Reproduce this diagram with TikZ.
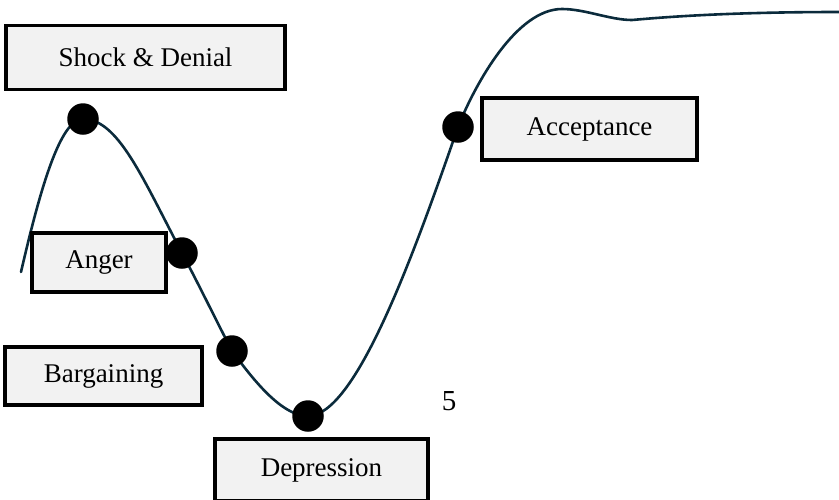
\documentclass[tikz,border=0pt]{standalone}
\usepackage{fontspec}
\setmainfont{Liberation Serif}
\definecolor{curvecol}{HTML}{0B2B3C}
\definecolor{boxfill}{HTML}{F2F2F2}
\tikzset{
  stagebox/.style={draw=black, line width=3.2pt, fill=boxfill, rectangle, inner sep=0pt,
    font=\fontsize{27}{30}\selectfont},
  stagedot/.style={circle, fill=black, draw=none, minimum size=31.5pt, inner sep=0pt},
  curveline/.style={draw=curvecol, line width=2.6pt, line cap=round}
}
\begin{document}
\begin{tikzpicture}[x=1pt,y=-1pt]
\useasboundingbox (0,0) rectangle (839,499);
% stage points
\coordinate (p0) at (21,272);
\coordinate (p1) at (83,119);
\coordinate (p2) at (182,253);
\coordinate (p3) at (232,351);
\coordinate (p4) at (308,416);
\coordinate (p5) at (458,127);
\coordinate (p6) at (562,9);
\coordinate (p7) at (632,20);
\coordinate (p8) at (839,12);
% curve
\draw[curveline] (p0)
  .. controls (40,190) and (60,119) .. (p1)
  .. controls (118,119) and (142,177) .. (p2)
  .. controls (199,285) and (215,318) .. (p3)
  .. controls (250,375) and (280,416) .. (p4)
  .. controls (355,416) and (412,260) .. (p5)
  .. controls (476,82) and (517,9) .. (p6)
  .. controls (585,9) and (610,20) .. (p7)
  .. controls (655,18) and (720,12) .. (p8);
% boxes
\node[stagebox, minimum width=279pt, minimum height=64pt] (shock) at (145.5,57.5) {Shock \& Denial};
\node[stagebox, minimum width=134pt, minimum height=59pt] (anger) at (99,262.5) {Anger};
\node[stagebox, minimum width=197pt, minimum height=58pt] (barg) at (103.5,376) {Bargaining};
\node[stagebox, minimum width=213pt, minimum height=62pt] (depr) at (321.5,470) {Depression};
\node[stagebox, minimum width=215pt, minimum height=62pt] (acc) at (589.5,129) {Acceptance};
% dots
\node[stagedot] (d1) at (p1) {};
\node[stagedot] (d2) at (p2) {};
\node[stagedot] (d3) at (p3) {};
\node[stagedot] (d4) at (p4) {};
\node[stagedot] (d5) at (p5) {};
% label
\node[font=\fontsize{29}{32}\selectfont, inner sep=0pt] (five) at (449,401) {5};
\end{tikzpicture}
\end{document}
